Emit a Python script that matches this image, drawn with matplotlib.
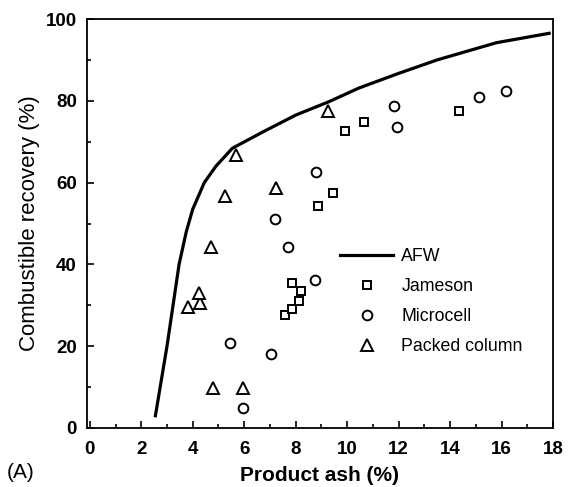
import matplotlib
matplotlib.use("Agg")
import matplotlib.pyplot as plt
from matplotlib.ticker import MultipleLocator

plt.rcParams['font.family'] = ['Liberation Sans', 'DejaVu Sans']

# AFW curve
afw_x = [2.55, 3.0, 3.47, 3.75, 4.0, 4.45, 4.9, 5.54, 6.73, 8.0, 9.3, 10.45, 12.0, 13.5, 15.8, 17.85]
afw_y = [3, 20, 40, 48, 53.5, 60, 64, 68.4, 72.4, 76.5, 79.8, 83.1, 86.7, 90, 94.2, 96.5]

# Jameson
jam_x = [7.58, 7.85, 8.14, 8.2, 7.85, 8.88, 9.45, 9.91, 10.67, 14.35]
jam_y = [27.6, 29.1, 31.0, 33.6, 35.4, 54.3, 57.4, 72.6, 74.8, 77.6]

# Microcell
mic_x = [5.96, 5.45, 7.03, 7.72, 8.75, 7.21, 8.78, 11.82, 11.95, 15.14, 16.18]
mic_y = [5.0, 20.9, 18.0, 44.3, 36.2, 51.2, 62.7, 78.7, 73.5, 81.0, 82.4]

# Packed column
pc_x = [3.81, 4.27, 4.23, 4.72, 4.78, 5.96, 5.27, 5.68, 7.25, 9.27]
pc_y = [29.7, 30.6, 33.1, 44.2, 9.7, 9.7, 56.7, 66.7, 58.8, 77.5]

fig = plt.figure(figsize=(5.75, 4.87), dpi=100)
ax = fig.add_axes([86.7/575, 1 - 428/487, (553 - 86.7)/575, (428 - 19)/487])

ax.plot(afw_x, afw_y, color='black', lw=2.3, label='AFW')
ax.plot(jam_x, jam_y, ls='none', marker='s', ms=6, mfc='white', mec='black', mew=1.4, label='Jameson')
ax.plot(mic_x, mic_y, ls='none', marker='o', ms=7, mfc='white', mec='black', mew=1.4, label='Microcell')
ax.plot(pc_x, pc_y, ls='none', marker='^', ms=8.5, mfc='white', mec='black', mew=1.4, label='Packed column')

ax.set_xlim(-0.12, 18)
ax.set_ylim(0, 100)
ax.xaxis.set_major_locator(MultipleLocator(2))
ax.xaxis.set_minor_locator(MultipleLocator(1))
ax.yaxis.set_major_locator(MultipleLocator(20))
ax.yaxis.set_minor_locator(MultipleLocator(10))
ax.tick_params(which='both', direction='in', top=False, right=False, width=1.2)
ax.tick_params(which='major', length=5, labelsize=13.5)
ax.tick_params(axis='x', which='major', pad=9)
ax.tick_params(axis='y', which='major', pad=7)
for lab in ax.get_xticklabels() + ax.get_yticklabels():
    lab.set_fontweight('bold')
ax.tick_params(which='minor', length=3)
for s in ax.spines.values():
    s.set_linewidth(1.3)

ax.set_xlabel('Product ash (%)', fontsize=15, fontweight='bold', labelpad=6)
ax.set_ylabel('Combustible recovery (%)', fontsize=16, labelpad=4)
fig.text(7/575, 1 - 473/487, '(A)', fontsize=15, va='center', ha='left')

ax.legend(loc='upper left', bbox_to_anchor=((340 - 86.7)/466.3, (428 - 248)/409),
          frameon=False, fontsize=12.8, handlelength=3.0, handletextpad=0.45,
          labelspacing=0.74, borderpad=0, borderaxespad=0)

fig.savefig('out.png', dpi=100)
